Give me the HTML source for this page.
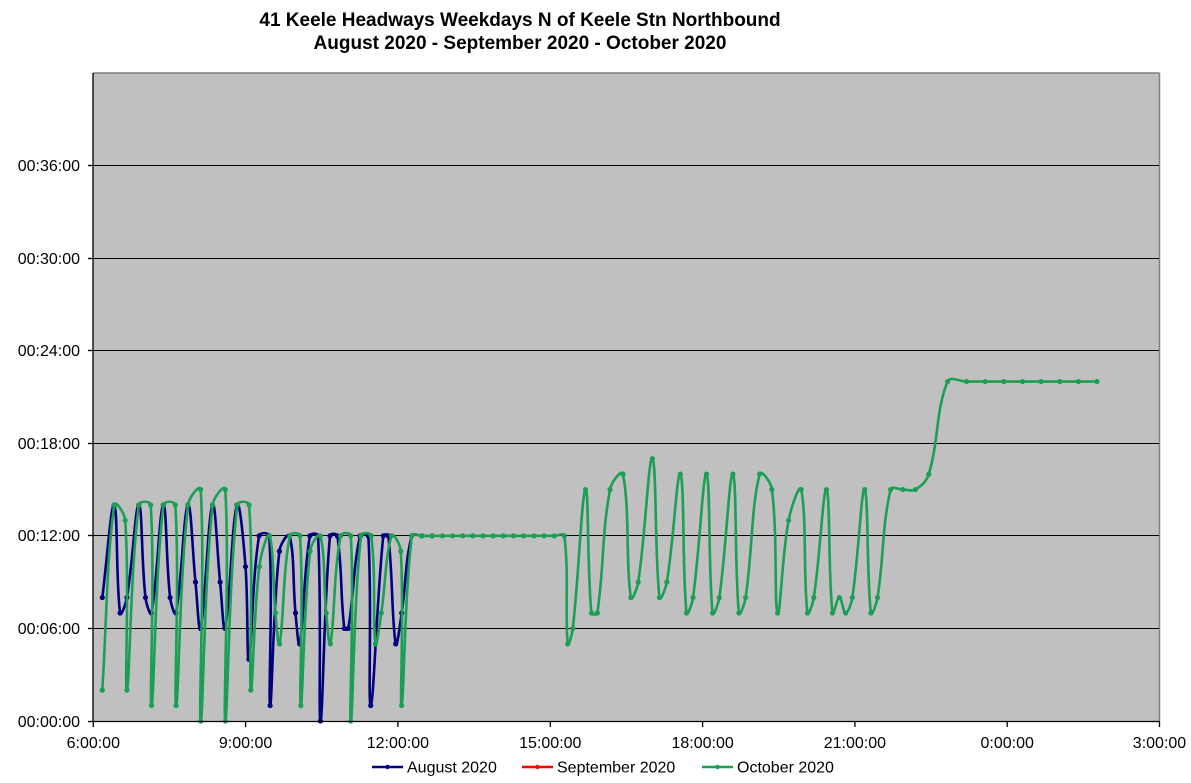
<!DOCTYPE html>
<html>
<head>
<meta charset="utf-8">
<style>
  html,body{margin:0;padding:0;background:#ffffff;}
  svg{display:block;}
  text{font-family:"Liberation Sans", Arial, sans-serif;fill:#000;}
</style>
</head>
<body>
<svg id="chart" width="1191" height="783" viewBox="0 0 1191 783" xmlns="http://www.w3.org/2000/svg">
  <rect x="0" y="0" width="1191" height="783" fill="#ffffff"/>
  <!-- Title -->
  <text x="520" y="26" font-size="19" font-weight="bold" text-anchor="middle">41 Keele Headways Weekdays N of Keele Stn Northbound</text>
  <text x="520" y="49" font-size="19" font-weight="bold" text-anchor="middle">August 2020 - September 2020 - October 2020</text>

  <!-- Plot area -->
  <rect x="93" y="73" width="1066" height="648" fill="#c0c0c0"/>
  <line x1="93" y1="73" x2="1159.5" y2="73" stroke="#808080" stroke-width="1.5"/>
  <line x1="1159.5" y1="73" x2="1159.5" y2="721" stroke="#808080" stroke-width="1.5"/>

  <!-- Gridlines -->
  <g stroke="#000" stroke-width="1">
    <line x1="93" y1="165.5" x2="1159" y2="165.5"/>
    <line x1="93" y1="258.5" x2="1159" y2="258.5"/>
    <line x1="93" y1="350.5" x2="1159" y2="350.5"/>
    <line x1="93" y1="443.5" x2="1159" y2="443.5"/>
    <line x1="93" y1="535.5" x2="1159" y2="535.5"/>
    <line x1="93" y1="628.5" x2="1159" y2="628.5"/>
  </g>

  <!-- Series group -->
  <g id="series"></g>

  <!-- Axes -->
  <g stroke="#000" stroke-width="1.3">
    <line x1="93" y1="73" x2="93" y2="721.5"/>
    <line x1="93" y1="721.5" x2="1160" y2="721.5"/>
    <line x1="88" y1="165.5" x2="93" y2="165.5"/>
    <line x1="88" y1="258.5" x2="93" y2="258.5"/>
    <line x1="88" y1="350.5" x2="93" y2="350.5"/>
    <line x1="88" y1="443.5" x2="93" y2="443.5"/>
    <line x1="88" y1="535.5" x2="93" y2="535.5"/>
    <line x1="88" y1="628.5" x2="93" y2="628.5"/>
    <line x1="88" y1="721.5" x2="93" y2="721.5"/>
    <line x1="93.3" y1="721" x2="93.3" y2="727"/>
    <line x1="245.6" y1="721" x2="245.6" y2="727"/>
    <line x1="397.9" y1="721" x2="397.9" y2="727"/>
    <line x1="550.3" y1="721" x2="550.3" y2="727"/>
    <line x1="702.6" y1="721" x2="702.6" y2="727"/>
    <line x1="854.9" y1="721" x2="854.9" y2="727"/>
    <line x1="1007.2" y1="721" x2="1007.2" y2="727"/>
    <line x1="1159.5" y1="721" x2="1159.5" y2="727"/>
  </g>

  <!-- Y labels -->
  <g font-size="16" text-anchor="end">
    <text x="80" y="171">00:36:00</text>
    <text x="80" y="264">00:30:00</text>
    <text x="80" y="356">00:24:00</text>
    <text x="80" y="449">00:18:00</text>
    <text x="80" y="541">00:12:00</text>
    <text x="80" y="634">00:06:00</text>
    <text x="80" y="727">00:00:00</text>
  </g>

  <!-- X labels -->
  <g font-size="16" text-anchor="middle">
    <text x="93.3" y="748">6:00:00</text>
    <text x="245.6" y="748">9:00:00</text>
    <text x="397.9" y="748">12:00:00</text>
    <text x="550.3" y="748">15:00:00</text>
    <text x="702.6" y="748">18:00:00</text>
    <text x="854.9" y="748">21:00:00</text>
    <text x="1007.2" y="748">0:00:00</text>
    <text x="1159.5" y="748">3:00:00</text>
  </g>

  <!-- Legend -->
  <g>
    <line x1="372" y1="767" x2="403" y2="767" stroke="#000080" stroke-width="2.5"/>
    <circle cx="387.5" cy="767" r="2.2" fill="#000080"/>
    <text x="407" y="772.5" font-size="16">August 2020</text>
    <line x1="522" y1="767" x2="553" y2="767" stroke="#ff0000" stroke-width="2.5"/>
    <circle cx="537.5" cy="767" r="2.2" fill="#ff0000"/>
    <text x="557" y="772.5" font-size="16">September 2020</text>
    <line x1="702" y1="767" x2="733" y2="767" stroke="#1a9f55" stroke-width="2.5"/>
    <circle cx="717.5" cy="767" r="2.2" fill="#1a9f55"/>
    <text x="737" y="772.5" font-size="16">October 2020</text>
  </g>
</svg>
<script>
(function(){
  var NS="http://www.w3.org/2000/svg";
  function Y(m){return 721 - m*15.43;}
  var B=[[102.3,8],[114.2,14],[120.1,7],[126.9,8],[138.8,14],[145.5,8],[151.5,7],[163.3,14],[170.1,8],[176,7],[187.9,14],[195.5,9],[200.6,6],[212.5,14],[220.1,9],[225.2,6],[237,14],[245.5,10],[248.9,4],[259.1,12],[269.2,12],[270.1,1],[279.4,11],[289.6,12],[295.5,7],[299.7,5],[309.9,12],[318,12],[320.5,0],[330,12],[337.3,12],[344.3,6],[348.3,6],[360,12],[368.3,12],[370.7,1],[383.3,12],[388.3,12],[395.7,5],[401.7,7],[411.8,12],[421.9,12],[432.1,12]];
  var G=[[102.3,2],[114.2,14],[125.2,13],[126.9,2],[138.8,14],[150.7,14],[151.5,1],[163.4,14],[175.3,14],[176.1,1],[188,14],[200.7,15],[200.7,0],[212.6,14],[225.3,15],[225.3,0],[237.2,14],[249.1,14],[250.8,2],[259.3,10],[269.5,12],[275.4,7],[279.6,5],[289.8,12],[300,12],[300.8,1],[310.1,11],[320.3,12],[326.2,7],[330.4,5],[340.6,12],[350.8,12],[350.8,0],[361,12],[371.2,12],[375.4,5],[381.3,7],[391.5,12],[400.8,11],[401.6,1],[411.8,12]];
  for(var i=1;i<=15;i++){G.push([411.8+i*10.17,12]);}
  G=G.concat([[567.7,5],[572.8,6],[585.5,15],[591.4,7],[597.3,7],[610,15],[623,16],[630.8,8],[638.2,9],[652.4,17],[659.5,8],[666.8,9],[680.4,16],[686.5,7],[693,8],[706.5,16],[712.6,7],[719.3,8],[732.9,16],[738.9,7],[745.6,8],[759.6,16],[771.9,15],[777.6,7],[788.6,13],[801.2,15],[807.4,7],[813.8,8],[826.5,15],[832.5,7],[839.4,8],[845.6,7],[852.3,8],[864.7,15],[870.9,7],[877.5,8],[890.6,15],[902.9,15],[915.4,15],[928.8,16],[947.6,22],[966.6,22],[985.2,22],[1003.8,22],[1022.5,22],[1041.1,22],[1059.8,22],[1078.4,22],[1097,22]]);
  function conv(a){return a.map(function(p){return [p[0],Y(p[1])];});}
  function dist(a,b){var dx=a[0]-b[0],dy=a[1]-b[1];return Math.sqrt(dx*dx+dy*dy);}
  function pathD(p){
    var n=p.length;
    // tangent vectors scaled per segment
    var d="M"+p[0][0].toFixed(2)+","+p[0][1].toFixed(2);
    for(var i=0;i<n-1;i++){
      var p0=p[i-1]||p[i],p1=p[i],p2=p[i+1],p3=p[i+2]||p[i+1];
      var d01=dist(p0,p1),d12=dist(p1,p2),d23=dist(p2,p3);
      var c1x=p1[0],c1y=p1[1],c2x=p2[0],c2y=p2[1];
      if(d01+d12>0){
        var f1=d12/(d01+d12)/2.6;
        c1x=p1[0]+(p2[0]-p0[0])*f1; c1y=p1[1]+(p2[1]-p0[1])*f1;
      }
      if(d12+d23>0){
        var f2=d12/(d12+d23)/2.6;
        c2x=p2[0]-(p3[0]-p1[0])*f2; c2y=p2[1]-(p3[1]-p1[1])*f2;
      }
      d+=" C"+c1x.toFixed(2)+","+c1y.toFixed(2)+" "+c2x.toFixed(2)+","+c2y.toFixed(2)+" "+p2[0].toFixed(2)+","+p2[1].toFixed(2);
    }
    return d;
  }
  var g=document.getElementById("series");
  function draw(data,color){
    var p=conv(data);
    var path=document.createElementNS(NS,"path");
    path.setAttribute("d",pathD(p));
    path.setAttribute("fill","none");
    path.setAttribute("stroke",color);
    path.setAttribute("stroke-width","2.6");
    path.setAttribute("stroke-linejoin","round");
    g.appendChild(path);
    p.forEach(function(q){
      var c=document.createElementNS(NS,"circle");
      c.setAttribute("cx",q[0]);c.setAttribute("cy",q[1]);
      c.setAttribute("r","2.6");c.setAttribute("fill",color);
      g.appendChild(c);
    });
  }
  draw(B,"#000080");
  draw(G,"#1a9f55");
})();
</script>
</body>
</html>
